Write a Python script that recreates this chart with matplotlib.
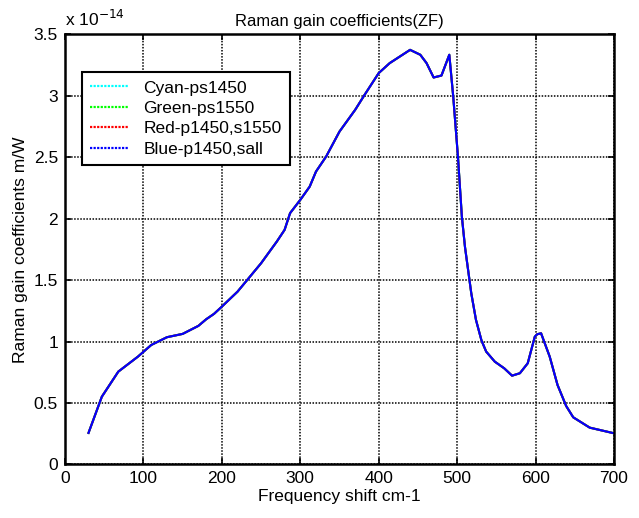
import matplotlib
matplotlib.use("Agg")
import matplotlib.pyplot as plt
from matplotlib.lines import Line2D
from matplotlib.ticker import FuncFormatter, MultipleLocator

plt.rcParams['font.family'] = ['Liberation Sans', 'DejaVu Sans']

# Raman gain curve (frequency shift in cm-1, gain in m/W)
shift = [30, 47, 68, 93, 110, 130, 150, 170, 180, 190, 200, 220, 250, 270,
         280, 287, 300, 312, 320, 333, 350, 370, 382, 400, 414, 440, 453,
         461, 470, 480, 490, 495, 501, 506, 510, 518, 524, 531, 537, 548,
         560, 570, 580, 590, 599, 602, 607, 618, 628, 639, 648, 669, 700]
gain_e14 = [0.257, 0.552, 0.756, 0.878, 0.973, 1.036, 1.063, 1.128, 1.182,
            1.226, 1.285, 1.407, 1.638, 1.814, 1.91, 2.046, 2.154, 2.262,
            2.384, 2.507, 2.71, 2.887, 3.009, 3.186, 3.267, 3.375, 3.335,
            3.267, 3.15, 3.166, 3.335, 2.995, 2.507, 2.018, 1.77, 1.394,
            1.177, 1.01, 0.919, 0.837, 0.783, 0.723, 0.743, 0.824, 1.04,
            1.06, 1.068, 0.878, 0.647, 0.476, 0.384, 0.30, 0.254]
gain = [g * 1e-14 for g in gain_e14]

series_labels = ['Cyan-ps1450', 'Green-ps1550', 'Red-p1450,s1550', 'Blue-p1450,sall']
series_colors = ['#00ffff', '#00ff00', '#ff0000', '#0000ff']

x_ticks = [0, 100, 200, 300, 400, 500, 600, 700]

fig = plt.figure(figsize=(6.39, 5.18), dpi=100)
ax = fig.add_axes([0.1017, 0.1033, 0.8592, 0.8301])

# the four configurations share the same gain curve; blue ends on top
for lab, col in zip(series_labels, series_colors):
    ax.plot(shift, gain, color=col, linewidth=1.5, label=lab)

ax.set_xlim(0, 700)
ax.set_ylim(0, 3.5e-14)
ax.set_xticks(x_ticks)
ax.yaxis.set_major_locator(MultipleLocator(0.5e-14))
ax.yaxis.set_major_formatter(FuncFormatter(lambda v, p: f"{v / 1e-14:g}"))

fs = 12.5
ax.tick_params(direction='in', length=4, width=1.2, top=True, right=True,
               labelsize=fs, colors='black', pad=5)
for sp in ax.spines.values():
    sp.set_linewidth(1.8)
ax.grid(True, color='black', linestyle=(0, (1, 1.0)), linewidth=1.1)

ax.set_title('Raman gain coefficients(ZF)', fontsize=fs - 0.6, pad=6)
ax.set_xlabel('Frequency shift cm-1', fontsize=fs, labelpad=2)
ax.set_ylabel('Raman gain coefficients m/W', fontsize=fs, labelpad=4)
ax.text(0.0, 1.012, r'x 10$^{-14}$', transform=ax.transAxes, fontsize=fs,
        ha='left', va='bottom')

handles = [Line2D([], [], color=c, linestyle=(0, (1, 0.6)), linewidth=1.6)
           for c in series_colors]
leg = ax.legend(handles, series_labels, loc='upper left',
                bbox_to_anchor=(0.0304, 0.9135), borderaxespad=0,
                fontsize=fs, fancybox=False, framealpha=1, edgecolor='black',
                handlelength=2.2, handletextpad=0.85, labelspacing=0.3,
                borderpad=0.5)
leg.get_frame().set_linewidth(1.5)

fig.savefig('out.png', dpi=100)
